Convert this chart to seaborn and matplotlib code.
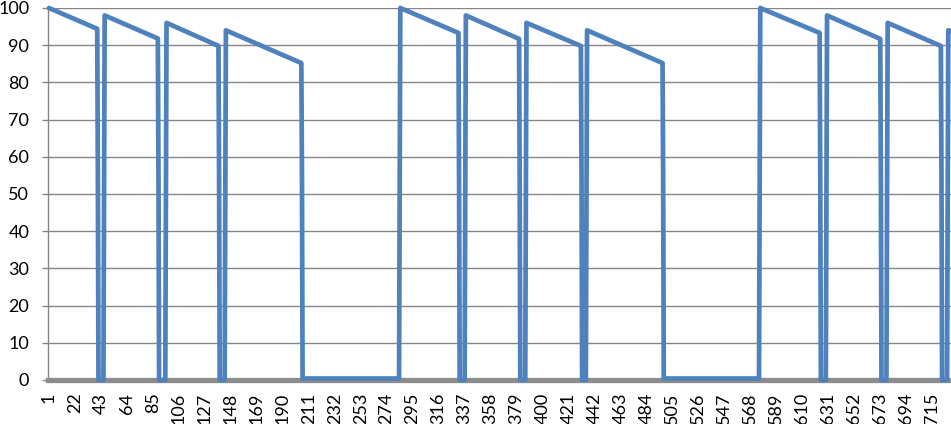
import matplotlib
matplotlib.use("Agg")
import matplotlib.pyplot as plt
import seaborn as sns
import pandas as pd

# each "tooth" of the curve: where it starts/ends (category index) and its values
tooth_start = [1, 46, 96, 144, 285, 338, 387, 436, 576, 630, 679, 728]
tooth_top = [100, 98, 96, 94, 100, 98, 96, 94, 100, 98, 96, 94]
tooth_end = [40, 89, 138, 205, 332, 381, 431, 497, 624, 673, 722, 730]
tooth_low = [94.4, 91.8, 89.8, 85.2, 93.3, 91.7, 89.8, 85.2, 93.3, 91.7, 89.8, 93.8]
# level reached between teeth (short stops at 0, long pauses slightly above)
gap_floor = [0, 0, 0, 0.4, 0, 0, 0, 0.4, 0, 0, 0]
drop_kink = 55

tick_labels = list(range(1, 716, 21))

# build the vertex list of the line
xs, ys = [], []
for i in range(len(tooth_start)):
    xs += [tooth_start[i], tooth_end[i]]
    ys += [tooth_top[i], tooth_low[i]]
    if i < len(gap_floor):
        xs += [tooth_end[i] + 0.5, tooth_end[i] + 1, tooth_start[i + 1] - 1]
        ys += [drop_kink, gap_floor[i], gap_floor[i]]
df = pd.DataFrame({"idx": xs, "val": ys})

sns.set_style("white")
plt.rcParams["font.family"] = ["Lato", "DejaVu Sans"]

fig = plt.figure(figsize=(9.51, 4.24), dpi=100)
ax = fig.add_axes([48 / 951, 44 / 424, 903 / 951, 372 / 424])

sns.lineplot(data=df, x="idx", y="val", ax=ax, color="#4F81BD", linewidth=3.4,
             sort=False, estimator=None, zorder=4, clip_on=False)

ax.set_xlim(0.19, 730.2)
ax.set_ylim(0, 100)
ax.set_yticks(range(0, 101, 10))
ax.set_xticks(tick_labels)
ax.set_xticklabels([str(t) for t in tick_labels], rotation=90)
ax.yaxis.grid(True, color="#868686", linewidth=1.0)
ax.set_axisbelow(True)
ax.set_xlabel("")
ax.set_ylabel("")

for s in ["top", "right"]:
    ax.spines[s].set_visible(False)
ax.spines["left"].set_color("#868686")
ax.spines["left"].set_linewidth(1.0)
ax.spines["bottom"].set_color("#8c8c8c")
ax.spines["bottom"].set_linewidth(3.8)
ax.spines["bottom"].set_zorder(3)

ax.tick_params(axis="y", length=4.5, width=1, color="#868686", pad=9,
               labelsize=13, labelcolor="black", left=True)
ax.tick_params(axis="x", length=0, pad=9, labelsize=13, labelcolor="black")

fig.savefig("out.png", dpi=100)
